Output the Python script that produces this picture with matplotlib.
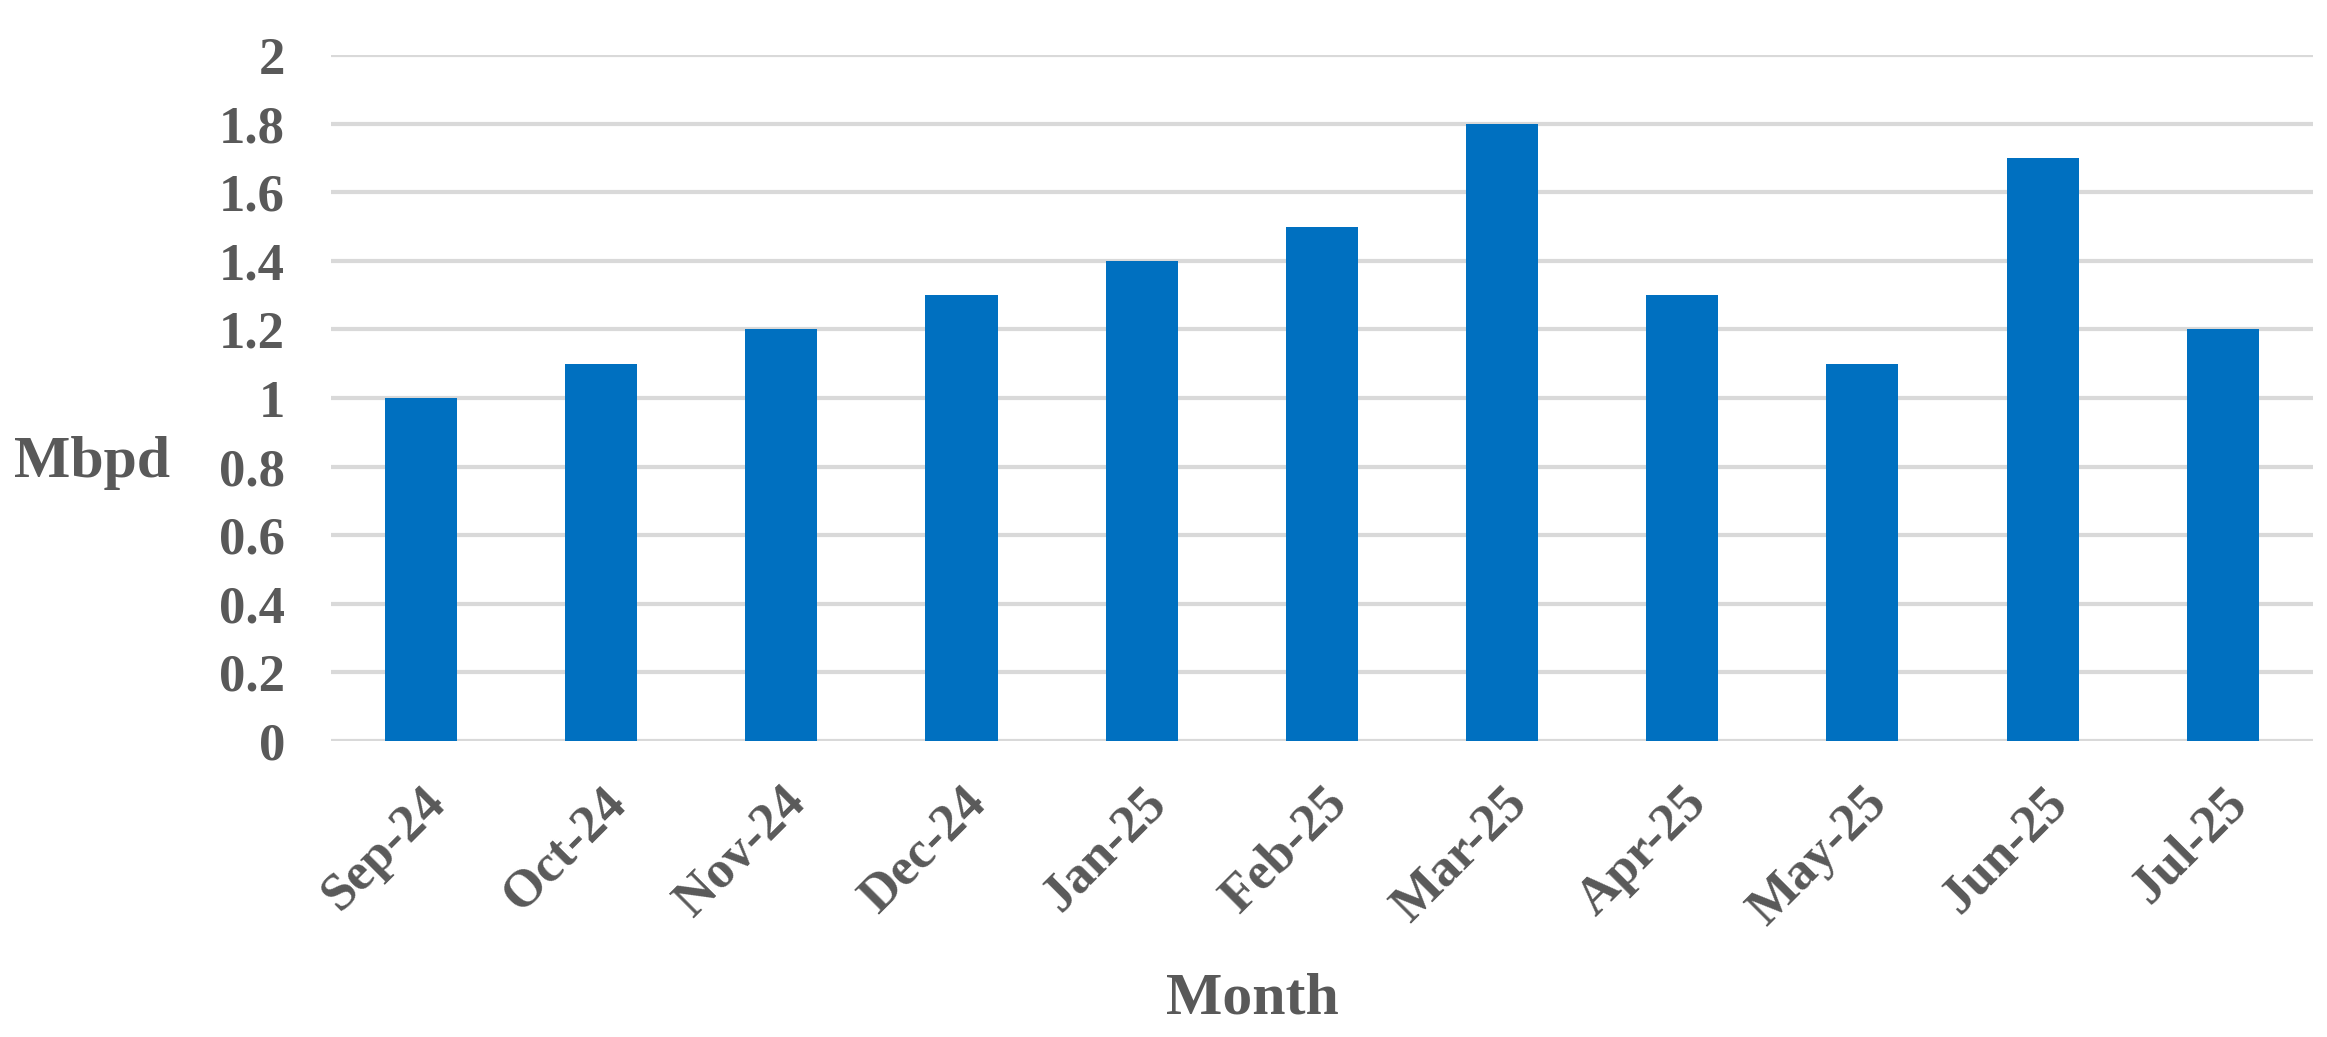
import numpy as np
import matplotlib
matplotlib.use('agg')
import matplotlib.pyplot as plt

months = ['Sep-24', 'Oct-24', 'Nov-24', 'Dec-24', 'Jan-25', 'Feb-25',
          'Mar-25', 'Apr-25', 'May-25', 'Jun-25', 'Jul-25']
mbpd = [1.0, 1.1, 1.2, 1.3, 1.4, 1.5, 1.8, 1.3, 1.1, 1.7, 1.2]
yticks = [0, 0.2, 0.4, 0.6, 0.8, 1, 1.2, 1.4, 1.6, 1.8, 2]
ytick_labels = ['0', '0.2', '0.4', '0.6', '0.8', '1', '1.2', '1.4', '1.6', '1.8', '2']

txt_col = '#595959'
plt.rcParams['font.family'] = ['Liberation Serif', 'DejaVu Serif']
plt.rcParams['font.weight'] = 'bold'

fig = plt.figure(figsize=[23.27, 10.37], dpi=100)
ax = fig.add_axes([0.1422, 0.2854, 0.8517, 0.6615])

x = np.arange(len(months))
ax.bar(x, mbpd, width=0.4, color='#0070C0', zorder=3)

ax.set_xlim(-0.5, len(months) - 0.5)
ax.set_ylim(0, 2)
ax.set_yticks(yticks)
ax.set_yticklabels(ytick_labels, fontsize=38, color=txt_col, fontweight='bold')
ax.set_xticks(x)
ax.set_xticklabels(months, fontsize=38, color=txt_col, fontweight='bold',
                   rotation=45, ha='right', rotation_mode='anchor')
ax.tick_params(axis='both', length=0)
ax.tick_params(axis='y', pad=33)
ax.tick_params(axis='x', pad=27)

ax.grid(axis='y', color='#D9D9D9', lw=3, zorder=0)
for s in ax.spines.values():
    s.set_visible(False)

# axis titles
fig.text(0.0395, 0.540, 'Mbpd', fontsize=43, color=txt_col, fontweight='bold',
         ha='center', va='baseline')
fig.text(0.538, 0.0231, 'Month', fontsize=43, color=txt_col, fontweight='bold',
         ha='center', va='baseline')

plt.savefig('out.png', dpi=100)
